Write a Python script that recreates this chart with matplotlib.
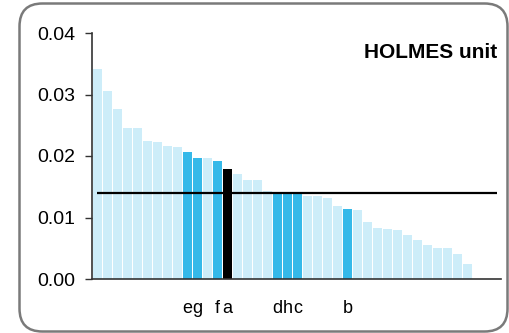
import matplotlib.pyplot as plt
from matplotlib.patches import FancyBboxPatch

plt.rcParams['font.family'] = ['Liberation Sans', 'DejaVu Sans']

# bar heights, sorted descending
values = [0.0342, 0.0306, 0.0277, 0.0246, 0.0246, 0.0225, 0.0222, 0.0217,
          0.0215, 0.0207, 0.0197, 0.0196, 0.0192, 0.0179, 0.0170, 0.0161,
          0.0161, 0.0143, 0.0140, 0.0140, 0.0140, 0.01355, 0.01355, 0.0131,
          0.0118, 0.0114, 0.0113, 0.0092, 0.0083, 0.0082, 0.0080, 0.0072,
          0.0064, 0.0056, 0.0051, 0.0051, 0.0041, 0.0025]
# highlighted units and their labels
highlight_idx = [9, 10, 12, 13, 18, 19, 20, 25]
highlight_lab = ['e', 'g', 'f', 'a', 'd', 'h', 'c', 'b']
selected_idx = 13
mean_value = 0.0140
yticks = [0.00, 0.01, 0.02, 0.03, 0.04]

light = '#cdedf9'
blue = '#35b9e9'
colors = [light] * len(values)
for i in highlight_idx:
    colors[i] = blue
colors[selected_idx] = 'black'

fig = plt.figure(figsize=(5.09, 3.33), dpi=100)
ax = fig.add_axes([92 / 509, 54 / 333, 409 / 509, 246 / 333])

ax.bar(range(len(values)), values, width=0.9, color=colors)
ax.hlines(mean_value, -0.1, 39.95, color='black', lw=1.6, zorder=3)

ax.set_xlim(-0.55, 40.35)
ax.set_ylim(0, 0.04)
ax.set_yticks(yticks)
ax.set_yticklabels(['%.2f' % v for v in yticks], fontsize=14)
ax.set_xticks(highlight_idx)
ax.set_xticklabels(highlight_lab, fontsize=13)
ax.tick_params(axis='x', length=0, pad=15)
ax.tick_params(axis='y', length=5, width=1, pad=7, color='#333333')

for s in ['top', 'right']:
    ax.spines[s].set_visible(False)
for s in ['left', 'bottom']:
    ax.spines[s].set_color('#333333')
    ax.spines[s].set_linewidth(1.2)

ax.text(0.99, 0.96, 'HOLMES unit', transform=ax.transAxes, ha='right', va='top',
        fontsize=15, fontweight='bold')

# rounded frame around the chart
frame = FancyBboxPatch((19.5 / 509, 1.5 / 333), 488 / 509, 328 / 333,
                       boxstyle='round,pad=0,rounding_size=0.045',
                       transform=fig.transFigure, fill=False,
                       edgecolor='#7a7a7a', lw=1.8, mutation_aspect=509 / 333)
fig.patches.append(frame)

fig.savefig('out.png', dpi=100)
